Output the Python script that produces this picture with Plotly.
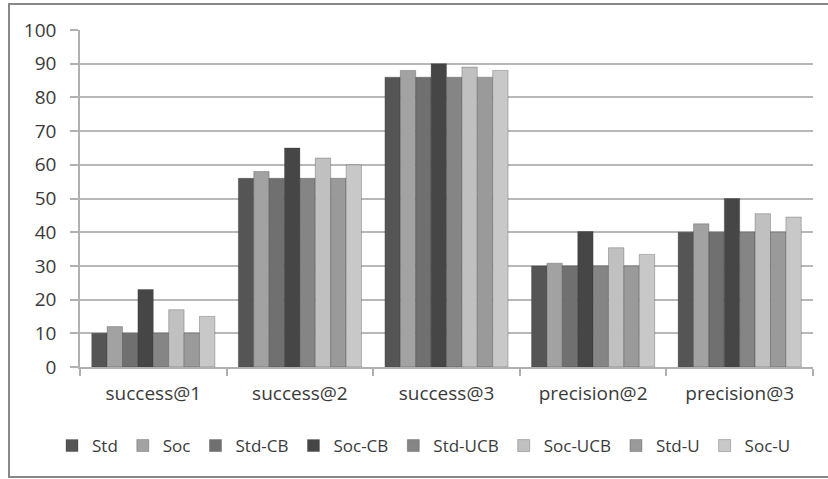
import plotly.graph_objects as go

categories = ["success@1", "success@2", "success@3", "precision@2", "precision@3"]
series_names = ["Std", "Soc", "Std-CB", "Soc-CB", "Std-UCB", "Soc-UCB", "Std-U", "Soc-U"]
std_vals = [10, 56, 86, 30, 40]
soc_vals = [12, 58, 88, 30.8, 42.5]
std_cb_vals = [10, 56, 86, 30, 40]
soc_cb_vals = [23, 65, 90, 40.2, 50]
std_ucb_vals = [10, 56, 86, 30, 40]
soc_ucb_vals = [17, 62, 89, 35.4, 45.5]
std_u_vals = [10, 56, 86, 30, 40]
soc_u_vals = [15, 60, 88, 33.4, 44.5]
y_ticks = [0, 10, 20, 30, 40, 50, 60, 70, 80, 90, 100]

series_values = [std_vals, soc_vals, std_cb_vals, soc_cb_vals,
                 std_ucb_vals, soc_ucb_vals, std_u_vals, soc_u_vals]
colors = ["#555555", "#a2a2a2", "#707070", "#464646",
          "#858585", "#c0c0c0", "#9a9a9a", "#c8c8c8"]

FONT = "Open Sans"
TXT = "#3a3a3a"

fig = go.Figure()
for name, vals, c in zip(series_names, series_values, colors):
    fig.add_trace(go.Bar(
        x=categories, y=vals, name=name,
        marker=dict(color=c, line=dict(color="rgba(40,40,40,0.35)", width=0.8)),
    ))

W, H = 828, 479
ML, MR, MT, MB = 80, 15, 30, 112
PW, PH = W - ML - MR, H - MT - MB

def px_x(px):
    return (px - ML) / PW

def px_y(py):
    return (H - MB - py) / PH

fig.update_layout(
    width=W, height=H,
    margin=dict(l=ML, r=MR, t=MT, b=MB, pad=0, autoexpand=False),
    paper_bgcolor="white", plot_bgcolor="white",
    barmode="group", bargap=0.16, bargroupgap=0,
    font=dict(family=FONT, size=19, color=TXT),
    showlegend=True,
    legend=dict(orientation="h", x=px_x(52), xanchor="left", y=px_y(446), yanchor="middle",
                font=dict(family=FONT, size=17, color=TXT), itemwidth=30,
                tracegroupgap=0, bgcolor="rgba(0,0,0,0)"),
    xaxis=dict(type="category", showgrid=False, showline=True, linecolor="#b0b0b0", linewidth=1.5,
               ticks="outside", tickson="boundaries", ticklen=7, tickcolor="#b0b0b0", tickwidth=1.5,
               ticklabelstandoff=8, tickfont=dict(family=FONT, size=19, color=TXT)),
    yaxis=dict(range=[0, 100], tickvals=y_ticks, showgrid=True, gridcolor="#b8b8b8", gridwidth=1.5,
               showline=True, linecolor="#b0b0b0", linewidth=1.5, zeroline=False,
               ticks="outside", ticklen=8, tickcolor="#b0b0b0", tickwidth=1.5,
               ticklabelstandoff=10, tickfont=dict(family=FONT, size=19, color=TXT)),
    shapes=[dict(type="rect", xref="paper", yref="paper",
                 x0=px_x(9), x1=px_x(840), y0=px_y(477), y1=px_y(4),
                 line=dict(color="#888888", width=2), fillcolor="rgba(0,0,0,0)", layer="below")],
)

fig.write_html("out.html", config={"displayModeBar": False},
               post_script="document.body.style.margin='0px';")
